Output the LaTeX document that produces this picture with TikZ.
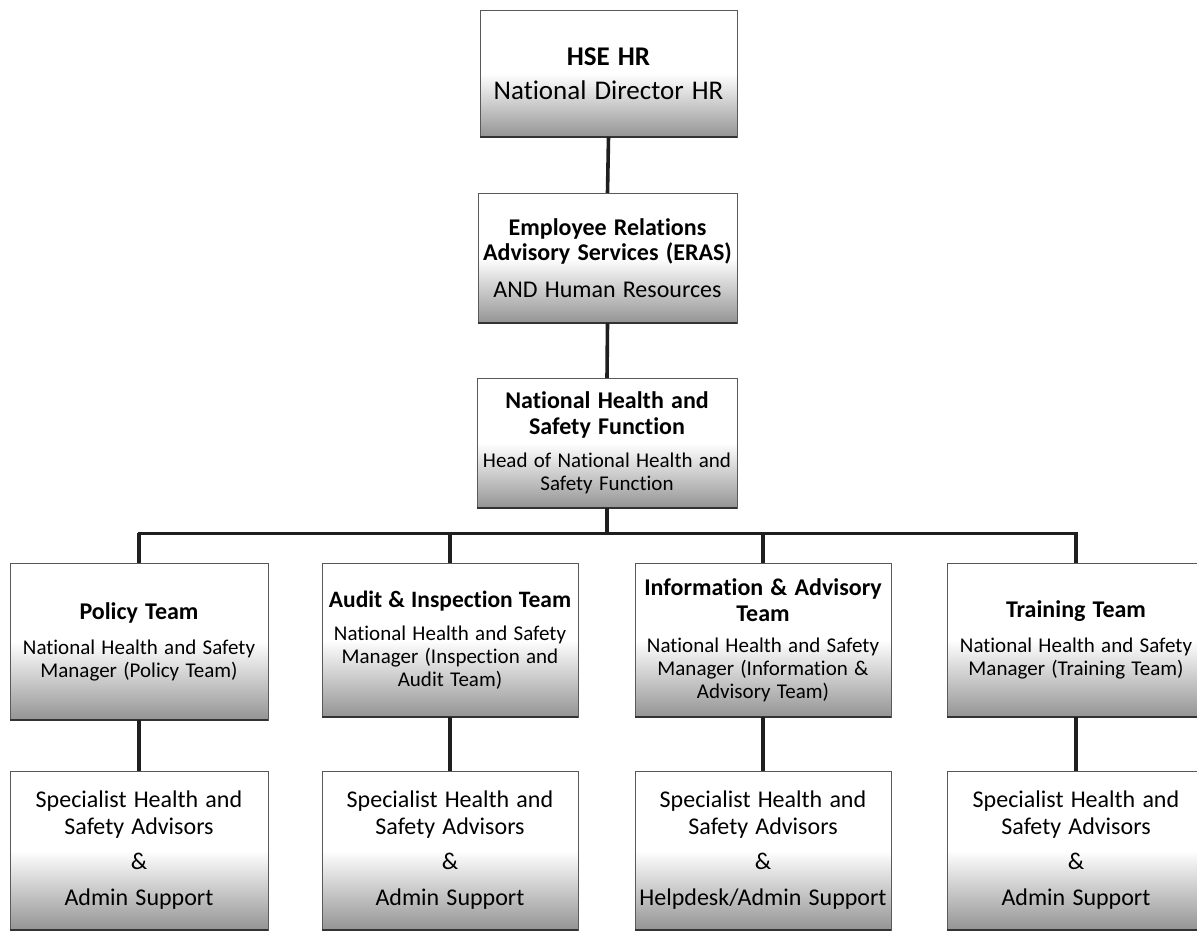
\documentclass[tikz,border=0pt]{standalone}
\usepackage{fontspec}
\setmainfont{Carlito}[Ligatures=NoCommon]
\newcommand{\wsp}{\spaceskip=0.3em\relax\xspaceskip=0.3em\relax}
\newcommand{\ttl}[1]{{\fontsize{24}{26}\bfseries\selectfont\wsp #1\par}}
\newcommand{\sbt}[1]{{\fontsize{21}{23}\mdseries\selectfont\wsp #1\par}}
\newcommand{\bgt}[1]{{\fontsize{24}{27}\mdseries\selectfont\wsp #1\par}}
\begin{document}
\begin{tikzpicture}[x=1pt,y=-1pt,
  orgbox/.style={draw=black!65, line width=0.7pt, top color=white, bottom color=black!42, middle color=white,
    inner xsep=3pt, inner ysep=0pt, outer sep=0pt, align=center, anchor=center},
  wbox/.style={orgbox, minimum width=#1pt, text width=#1pt-6pt},
  link/.style={line width=3.6pt, draw=black!88},
  botline/.style={line width=1.6pt, draw=black!80}]
\useasboundingbox (0,0) rectangle (1197,932);

% top level
\node[wbox=257, minimum height=127pt] (hse) at (608.5,73.5)
  {{\fontsize{27}{30}\bfseries\selectfont\wsp HSE HR\par}\vspace{4pt}{\fontsize{27}{30}\mdseries\selectfont\wsp National Director HR\par}};
\node[wbox=259, minimum height=130pt] (eras) at (607.5,258)
  {{\fontsize{24}{25}\bfseries\selectfont\wsp Employee Relations\\Advisory Services (ERAS)\par}\vspace{12pt}{\fontsize{24}{25}\mdseries\selectfont\wsp AND Human Resources\par}};
\node[wbox=260, minimum height=130pt] (nhs) at (607,443)
  {\ttl{National Health and\\Safety Function}\vspace{10pt}\sbt{Head of National Health and\\Safety Function}};

% teams
\node[wbox=258, minimum height=157pt] (policy) at (139,641.5)
  {\ttl{Policy Team}\vspace{12pt}\sbt{National Health and Safety\\Manager (Policy Team)}};
\node[wbox=256, minimum height=154pt] (audit) at (450,640)
  {{\fontsize{23.5}{26}\bfseries\selectfont\spaceskip=0.26em\relax\mbox{Audit \& Inspection Team}\par}\vspace{10pt}\sbt{National Health and Safety\\Manager (Inspection and\\Audit Team)}};
\node[wbox=256, minimum height=154pt] (info) at (763,640)
  {\ttl{Information \& Advisory\\Team}\vspace{8pt}\sbt{National Health and Safety\\Manager (Information \&\\Advisory Team)}};
\node[wbox=258, minimum height=154pt] (train) at (1076,640)
  {\ttl{Training Team}\vspace{12pt}\sbt{National Health and Safety\\Manager (Training Team)}};

% bottom boxes
\node[wbox=258, minimum height=159pt] (spol) at (139,850.5)
  {\bgt{Specialist Health and\\Safety Advisors}\vspace{8pt}\bgt{\&}\vspace{9pt}\bgt{Admin Support}};
\node[wbox=256, minimum height=159pt] (saud) at (450,850.5)
  {\bgt{Specialist Health and\\Safety Advisors}\vspace{8pt}\bgt{\&}\vspace{9pt}\bgt{Admin Support}};
\node[wbox=256, minimum height=159pt] (sinf) at (763,850.5)
  {\bgt{Specialist Health and\\Safety Advisors}\vspace{8pt}\bgt{\&}\vspace{9pt}\bgt{Helpdesk/Admin Support}};
\node[wbox=258, minimum height=159pt] (strn) at (1076,850.5)
  {\bgt{Specialist Health and\\Safety Advisors}\vspace{8pt}\bgt{\&}\vspace{9pt}\bgt{Admin Support}};

\foreach \n in {hse,eras,nhs,policy,audit,info,train,spol,saud,sinf,strn}
  \draw[botline] (\n.south west) -- (\n.south east);

% connectors
\coordinate (bus) at (0,533);
\draw[link] (hse.south) -- (eras.north);
\draw[link] (eras.south) -- (nhs.north);
\draw[link] (nhs.south) -- (nhs.south |- bus);
\draw[link, line width=3pt, line cap=rect] (policy.north |- bus) -- (train.north |- bus);
\foreach \n in {policy,audit,info,train}
  \draw[link] (\n.north |- bus) -- (\n.north);
\draw[link] (policy.south) -- (spol.north);
\draw[link] (audit.south) -- (saud.north);
\draw[link] (info.south) -- (sinf.north);
\draw[link] (train.south) -- (strn.north);
\end{tikzpicture}
\end{document}
